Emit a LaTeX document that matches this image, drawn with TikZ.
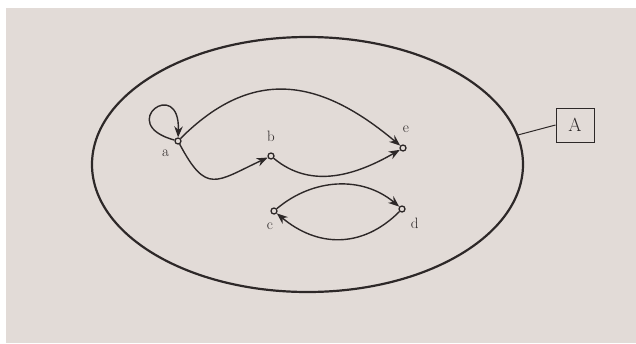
\documentclass[tikz,border=0pt]{standalone}
\usepackage{tikz}
\usetikzlibrary{arrows.meta,positioning,shapes.geometric}

\definecolor{paper}{RGB}{226,219,215}
\definecolor{ink}{RGB}{45,40,40}

\tikzset{
  pt/.style={circle, draw=ink, line width=1.3pt, inner sep=0pt, minimum size=6pt},
  every label/.style={text=ink, font=\fontsize{15}{17}\selectfont},
  arc/.style={->, draw=ink, line width=1.4pt},
}

\begin{document}
\begin{tikzpicture}[x=1pt, y=-1pt, >={Stealth[length=11pt,width=8.5pt]}]
  \useasboundingbox (0,0) rectangle (636,343);
  \fill[white] (0,0) rectangle (636,343);
  \fill[paper] (6,8) rectangle (636,343);

  \node[ellipse, draw=ink, line width=2.2pt, minimum width=431pt, minimum height=255pt,
    inner sep=0pt] (set) at (307.5,164.5) {};
  \node[draw=ink, line width=1pt, minimum width=38pt, minimum height=34pt, text=ink,
    font=\fontsize{19}{21}\selectfont] (A) at (575,125) {A};
  \draw[ink, line width=1pt] (set.8) -- (A.west);

  \node[pt, label={[label distance=4pt]below left:a}] (a) at (178,141) {};
  \node[pt, label={[label distance=7pt]above:b}] (b) at (271,156) {};
  \node[pt, label={[label distance=8pt, xshift=3pt]above:e}] (e) at (403,148) {};
  \node[pt, label={[label distance=5pt, xshift=-4pt]below:c}] (c) at (274,211) {};
  \node[pt, label={[label distance=4pt]below right:d}] (d) at (402,209) {};

  \draw[arc] (a) to[out=165, in=88, min distance=62pt] (a);
  \draw[arc] (a) to[out=45, in=140, looseness=1.2] (e);
  \draw[arc] (a) to[out=-62, in=205, looseness=1.65] (b);
  \draw[arc] (b) to[out=-40, in=210] (e);
  \draw[arc] (c) to[out=40, in=140] (d);
  \draw[arc] (d) to[out=-135, in=-40, looseness=1.1] (c);
\end{tikzpicture}
\end{document}
